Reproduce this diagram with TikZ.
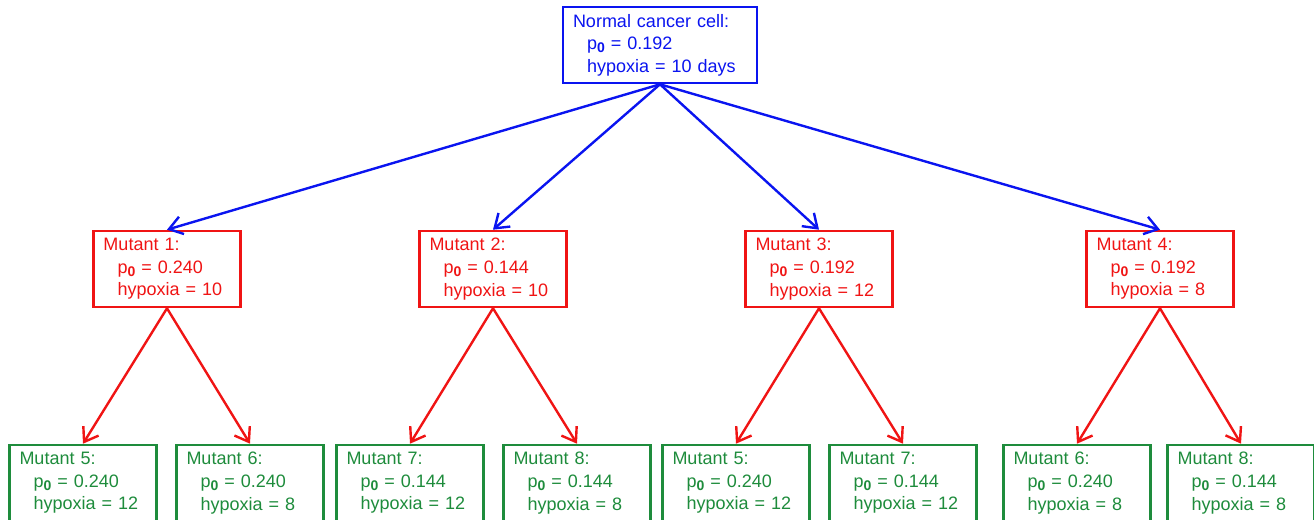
\documentclass[tikz,border=0pt]{standalone}
\usepackage{fontspec}
\setmainfont{Liberation Sans}
\usetikzlibrary{arrows.meta, positioning}
\definecolor{rootcol}{HTML}{0A14F0}
\definecolor{midcol}{HTML}{F01414}
\definecolor{leafcol}{HTML}{1E8C3C}
\newcommand{\pz}{p\raisebox{-0.35ex}{\fontsize{7}{7}\selectfont\bfseries 0}}
\newcommand{\ind}{\hspace*{7pt}}

\begin{document}
\begin{tikzpicture}[
  x=0.5pt, y=-0.5pt,
  cell/.style={
    draw, line width=1.3pt, fill=white, align=left,
    font=\fontsize{9}{11.3}\selectfont, inner xsep=5pt, inner ysep=0pt,
    minimum height=38pt, text width=63.5pt
  },
  rootbox/.style={cell, draw=rootcol, text=rootcol, text width=87pt},
  midbox/.style={cell, draw=midcol, text=midcol},
  leafbox/.style={cell, draw=leafcol, text=leafcol},
  conn/.style={-{Straight Barb[length=6.5pt, width=9pt, line width=1.2pt]}, line width=1.2pt},
]
\useasboundingbox (0,0) rectangle (1314,520);

% ===== Root cell =====
\node[rootbox] (root) at (660,45)
  {Normal cancer cell:\\\ind\pz{} = 0.192\\\ind hypoxia = 10 days};

% ===== First generation of mutants =====
\foreach \i/\x/\p/\h in {1/167/0.240/10, 2/493/0.144/10, 3/819/0.192/12, 4/1160/0.192/8}{
  \node[midbox] (mut\i) at (\x,269) {Mutant \i:\\\ind\pz{} = \p\\\ind hypoxia = \h};
  \draw[conn, rootcol] (root.south) -- (mut\i.north);
}

% ===== Second generation (two children per mutant) =====
\foreach \k/\pa/\x/\m/\p/\h in {
  1/1/83/5/0.240/12, 2/1/250/6/0.240/8,
  3/2/410/7/0.144/12, 4/2/577/8/0.144/8,
  5/3/736/5/0.240/12, 6/3/903/7/0.144/12,
  7/4/1077/6/0.240/8, 8/4/1241/8/0.144/8}{
  \node[leafbox] (leaf\k) at (\x,483) {Mutant \m:\\\ind\pz{} = \p\\\ind hypoxia = \h};
  \draw[conn, midcol] (mut\pa.south) -- (leaf\k.north);
}

\end{tikzpicture}
\end{document}
